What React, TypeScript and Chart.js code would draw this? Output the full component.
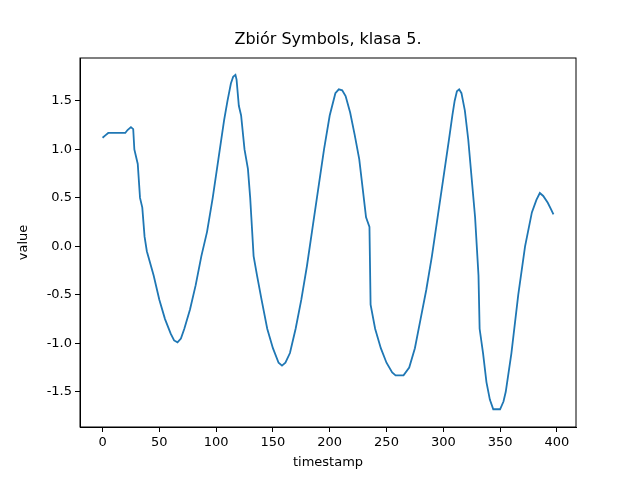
import React, { useEffect, useRef } from "react";
import { Chart, registerables } from "chart.js";
Chart.register(...registerables);

const timestamps = [0,3,5,20,22,25,27,28,31,33,35,37,39,45,50,55,60,63,66,69,72,77,82,87,92,97,102,107,110,113,115,117,118,120,122,125,128,130,131,133,136,140,145,150,155,158,161,165,170,175,180,185,190,195,200,205,208,211,214,218,222,226,229,232,235,236,240,245,250,255,258,265,270,275,280,285,290,295,300,305,308,310,312,314,316,319,322,325,328,331,332,335,338,341,344,350,353,355,360,366,372,378,382,385,388,392,395,397];
const values = [1.12,1.15,1.17,1.17,1.2,1.23,1.21,1.0,0.85,0.5,0.4,0.1,-0.05,-0.3,-0.55,-0.75,-0.9,-0.97,-0.99,-0.95,-0.85,-0.65,-0.4,-0.1,0.15,0.5,0.9,1.3,1.5,1.68,1.75,1.77,1.72,1.45,1.35,1.0,0.8,0.5,0.3,-0.1,-0.3,-0.55,-0.85,-1.05,-1.2,-1.23,-1.2,-1.1,-0.85,-0.55,-0.2,0.2,0.6,1.0,1.35,1.58,1.62,1.61,1.55,1.38,1.15,0.9,0.6,0.3,0.2,-0.6,-0.85,-1.05,-1.2,-1.3,-1.33,-1.33,-1.25,-1.05,-0.75,-0.45,-0.1,0.3,0.7,1.1,1.35,1.5,1.6,1.62,1.58,1.4,1.1,0.7,0.3,-0.3,-0.85,-1.1,-1.4,-1.58,-1.68,-1.68,-1.6,-1.5,-1.1,-0.5,0.0,0.35,0.48,0.55,0.52,0.45,0.38,0.33];
const xTicks = [0,50,100,150,200,250,300,350,400];
const yTicks = [-1.5,-1.0,-0.5,0.0,0.5,1.0,1.5];
const titleText = "Zbiór Symbols, klasa 5.";

const frame = {
  id: "frame",
  afterDraw(c: any) {
    const { left, right, top, bottom } = c.chartArea;
    const ctx = c.ctx;
    ctx.save();
    ctx.strokeStyle = "#000";
    ctx.lineWidth = 1;
    ctx.strokeRect(left, top, right - left, bottom - top);
    ctx.fillStyle = "#000";
    ctx.font = "16px 'DejaVu Sans'";
    ctx.textAlign = "center";
    ctx.textBaseline = "middle";
    ctx.fillText(titleText, (left + right) / 2, top - 18);
    ctx.restore();
  },
};

export default function App() {
  const ref = useRef<HTMLCanvasElement>(null);
  useEffect(() => {
    document.body.style.margin = "0";
    const font = { family: "DejaVu Sans", size: 13 };
    const chart = new Chart(ref.current!, {
      type: "line",
      data: {
        datasets: [{
          data: timestamps.map((t, i) => ({ x: t, y: values[i] })),
          borderColor: "#1f77b4",
          borderWidth: 1.8,
          pointRadius: 0,
          tension: 0,
        }],
      },
      options: {
        animation: false,
        responsive: false,
        devicePixelRatio: 1,
        layout: { padding: { left: 16, right: 64, top: 58, bottom: 10 } },
        plugins: {
          legend: { display: false },
          tooltip: { enabled: false },
        },
        scales: {
          x: {
            type: "linear", min: -19.85, max: 416.85,
            afterBuildTicks: (s: any) => { s.ticks = xTicks.map((v) => ({ value: v })); },
            afterFit: (s: any) => { s.height = 43; },
            grid: { display: true, drawOnChartArea: false, tickLength: 5, color: "#000" },
            border: { color: "#000" },
            ticks: { color: "#000", font, padding: 3, maxRotation: 0 },
            title: { display: true, text: "timestamp", color: "#000", font, padding: 0 },
          },
          y: {
            type: "linear", min: -1.863, max: 1.943,
            afterBuildTicks: (s: any) => { s.ticks = yTicks.map((v) => ({ value: v })); },
            afterFit: (s: any) => { s.width = 64; },
            grid: { display: true, drawOnChartArea: false, tickLength: 5, color: "#000" },
            border: { color: "#000" },
            ticks: { color: "#000", font, padding: 3, callback: (v: any) => Number(v).toFixed(1) },
            title: { display: true, text: "value", color: "#000", font, padding: 0 },
          },
        },
      },
      plugins: [frame],
    });
    return () => chart.destroy();
  }, []);
  return <canvas ref={ref} width={640} height={480} style={{ display: "block" }} />;
}
